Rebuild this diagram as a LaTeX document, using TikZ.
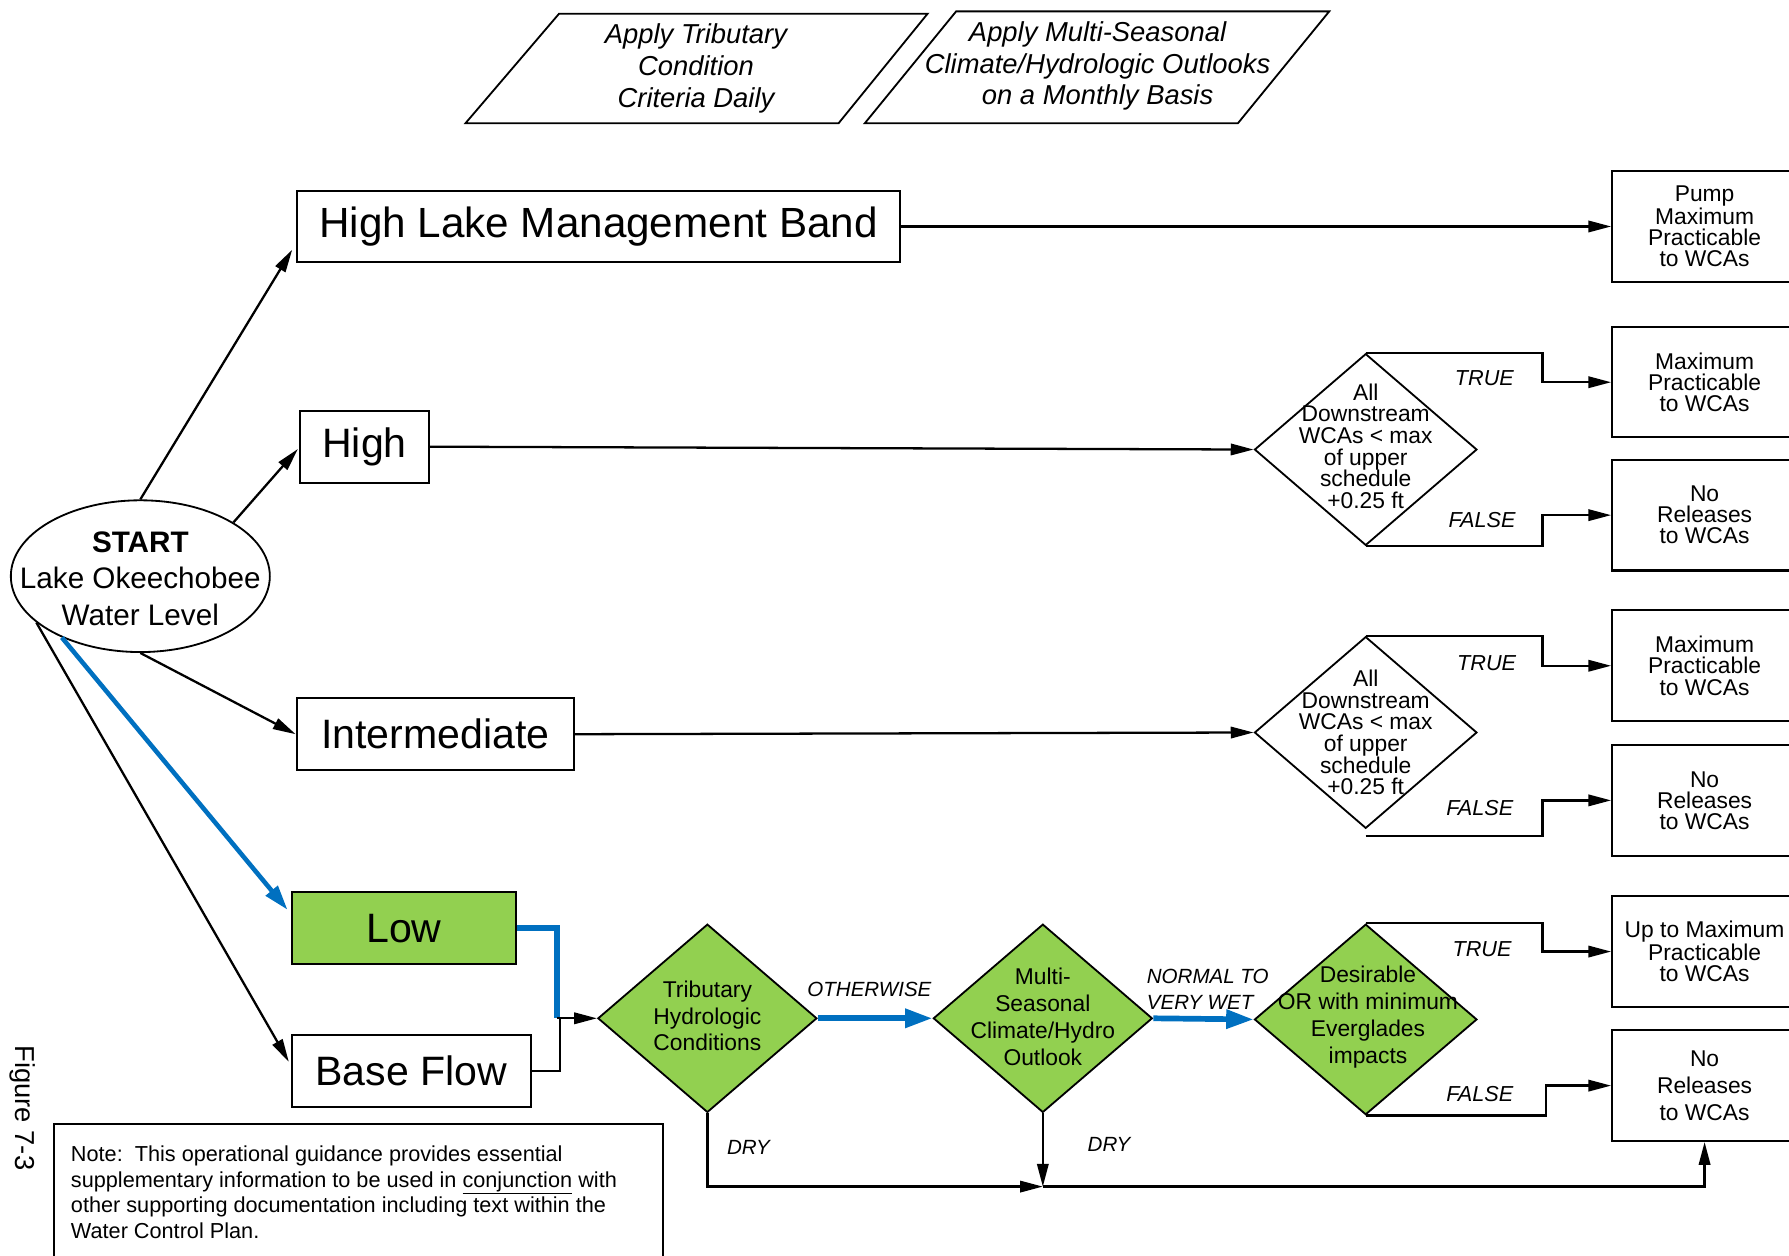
\documentclass[tikz,border=0pt]{standalone}
\usepackage{fontspec}
\setmainfont{Liberation Sans}
\usetikzlibrary{arrows.meta,shapes.geometric,calc}
\definecolor{lkblue}{RGB}{0,112,192}
\definecolor{lkgreen}{RGB}{146,208,80}
\newcommand\fsz[2]{\fontsize{#1pt}{#2pt}\selectfont}
\begin{document}
\begin{tikzpicture}[x=1pt,y=-1pt,
  box/.style={draw,line width=1.8pt,inner sep=0pt,minimum height=63pt,font=\fsz{36}{40}},
  rbox/.style={draw,line width=1.8pt,inner sep=0pt,minimum width=162pt,align=center,font=\fsz{20}{18.5}},
  dia/.style={draw,line width=1.6pt,shape=diamond,inner sep=0pt},
  dtext/.style={align=center,inner sep=0pt,font=\fsz{20}{19}},
  lbl/.style={inner sep=0pt,font=\fsz{19}{22}\itshape},
  arr/.style={line width=2pt,-{Triangle[length=20pt,width=10pt]}},
  ln/.style={line width=2pt},
  barr/.style={draw=lkblue,line width=5pt,-{Triangle[length=24pt,width=16pt]}},
]
\useasboundingbox (0,0) rectangle (1568,1100);

% top parallelograms
\draw[line width=1.6pt] (490,12) -- (813,12) -- (735,108) -- (408,108) -- cycle;
\node[align=center,inner sep=0pt,font=\fsz{24}{28}\itshape] (p1) at (610,60) {Apply Tributary\\Condition\\Criteria Daily};
\draw[line width=1.6pt] (838,10) -- (1165,10) -- (1085,108) -- (758,108) -- cycle;
\node[align=center,inner sep=0pt,font=\fsz{24}{27.5}\itshape] (p2) at (962,58) {Apply Multi-Seasonal\\Climate/Hydrologic Outlooks\\on a Monthly Basis};

% start ellipse
\node[draw,line width=1.6pt,ellipse,minimum width=227pt,minimum height=133pt,inner sep=0pt] (st) at (123,505) {};
\node[align=center,inner sep=0pt,font=\fsz{26}{32}] (stt) at (123,507) {\textbf{START}\\Lake Okeechobee\\Water Level};

% level boxes
\node[box,minimum width=529pt,font=\fsz{37}{40}] (hlmb) at (524.5,198.5) {High Lake Management Band};
\node[box,minimum width=113pt] (high) at (319.5,391.5) {High};
\node[box,minimum width=243pt] (inter) at (381.5,643.5) {Intermediate};
\node[box,minimum width=196pt,fill=lkgreen] (low) at (354,813.5) {Low};
\node[box,minimum width=209pt] (base) at (360.5,938.5) {Base Flow};

% right result boxes
\node[rbox,minimum height=97pt] (pump) at (1494,198.5) {Pump\\Maximum\\Practicable\\to WCAs};
\node[rbox,minimum height=96pt] (mp1) at (1494,335) {Maximum\\Practicable\\to WCAs};
\node[rbox,minimum height=97pt] (nr1) at (1494,451.5) {No\\Releases\\to WCAs};
\node[rbox,minimum height=97pt] (mp2) at (1494,583.5) {Maximum\\Practicable\\to WCAs};
\node[rbox,minimum height=97pt] (nr2) at (1494,701.5) {No\\Releases\\to WCAs};
\node[rbox,minimum height=98pt] (upto) at (1494,834) {Up to Maximum\\Practicable\\to WCAs};
\node[rbox,minimum height=97pt,font=\fsz{20}{23.5}] (nr3) at (1494,951.5) {No\\Releases\\to WCAs};

% decision diamonds
\node[dia,minimum width=195pt,minimum height=168pt] (d1) at (1197,394) {};
\node[dtext] (d1t) at (1197,391) {All\\Downstream\\WCAs \textless{} max\\of upper\\schedule\\+0.25 ft};
\node[dia,minimum width=195pt,minimum height=168pt] (d2) at (1197,642) {};
\node[dtext] (d2t) at (1197,642) {All\\Downstream\\WCAs \textless{} max\\of upper\\schedule\\+0.25 ft};
\node[dia,fill=lkgreen,minimum width=192pt,minimum height=165pt] (trib) at (620,892.5) {};
\node[dtext,font=\fsz{20}{23.5}] (tribt) at (620,890.5) {Tributary\\Hydrologic\\Conditions};
\node[dia,fill=lkgreen,minimum width=192pt,minimum height=165pt] (multi) at (914,892.5) {};
\node[dtext,font=\fsz{20}{23.7}] (multit) at (914,891.5) {Multi-\\Seasonal\\Climate/Hydro\\Outlook};
\node[dia,fill=lkgreen,minimum width=195pt,minimum height=167pt] (des) at (1197,893.5) {};
\node[dtext,font=\fsz{20}{23.7}] (dest) at (1199,891.5) {Desirable\\OR with minimum\\Everglades\\impacts};

% connectors from start
\draw[arr] (st.north) -- ($(hlmb.south west)+(-3,-12)$);
\draw[arr] (st.30) -- ($(high.west)+(-1,2)$);
\draw[arr] (st.south) -- (inter.west);
\draw[draw=lkblue,line width=4pt,-{Triangle[length=22pt,width=13pt]}] (st.218) -- ($(low.west)+(-3,-16)$);
\draw[arr] (st.204) -- ($(base.west)+(-2,-8)$);

% horizontal main flows
\draw[arr] (hlmb.east) -- (pump.west);
\draw[arr] (high.east) -- (d1.west);
\draw[arr] (inter.east) -- (d2.west);

% true / false branches
\draw[arr] (d1.north) -- ++(155,0) |- (mp1.west);
\draw[arr] (d1.south) -- ++(155,0) |- (nr1.west);
\draw[arr] (d2.north) -- ++(155,0) |- (mp2.west);
\draw[arr] ($(d2.south)+(0,6)$) -- ++(155,0) |- (nr2.west);
\draw[arr] (des.north) -- ++(155,0) |- (upto.west);
\draw[arr] (des.south) -- ++(158,0) |- (nr3.west);

\node[lbl] (t1) at (1301,331) {TRUE};
\node[lbl] (f1) at (1299,456) {FALSE};
\node[lbl] (t2) at (1303,581) {TRUE};
\node[lbl] (f2) at (1297,708) {FALSE};
\node[lbl] (t3) at (1299,832) {TRUE};
\node[lbl] (f3) at (1297,959) {FALSE};

% low / base flow into tributary
\coordinate (jb) at (488,892.5);
\coordinate (jk) at (491,892.5);
\draw[draw=lkblue,line width=5pt] (low.east) -| (jb);
\draw[ln] (base.east) -| (jk);
\draw[arr] (jb) -- (trib.west);

% green chain
\draw[barr] (trib.east) -- (multi.west);
\draw[barr] (multi.east) -- (des.west);
\node[lbl,font=\fsz{18}{22}\itshape] (oth) at (762,867) {OTHERWISE};
\node[lbl,font=\fsz{18}{22.5}\itshape,align=left,anchor=west] (nw) at (1005,867) {NORMAL TO\\VERY WET};

% dry paths
\coordinate (mg) at (914,1040);
\draw[arr] (trib.south) |- (mg);
\draw[arr] (multi.south) -- (mg);
\draw[arr] (mg) -| (nr3.south);
\node[lbl,font=\fsz{18}{22}\itshape] (dry1) at (656,1006) {DRY};
\node[lbl,font=\fsz{18}{22}\itshape] (dry2) at (972,1003) {DRY};

% note
\draw[line width=1.6pt] (47,1110) -- (47,985) -- (581,985) -- (581,1110);
\node[anchor=west,align=left,inner sep=0pt,font=\fsz{19}{22.4}] (note) at (62,1045) {Note:\ \ This operational guidance provides essential\\supplementary information to be used in \underline{conjunction} with\\other supporting documentation including text within the\\Water Control Plan.};

% figure caption
\node[rotate=-90,inner sep=0pt,font=\fsz{24}{28}] (fig) at (20,971) {Figure 7-3};
\end{tikzpicture}
\end{document}
